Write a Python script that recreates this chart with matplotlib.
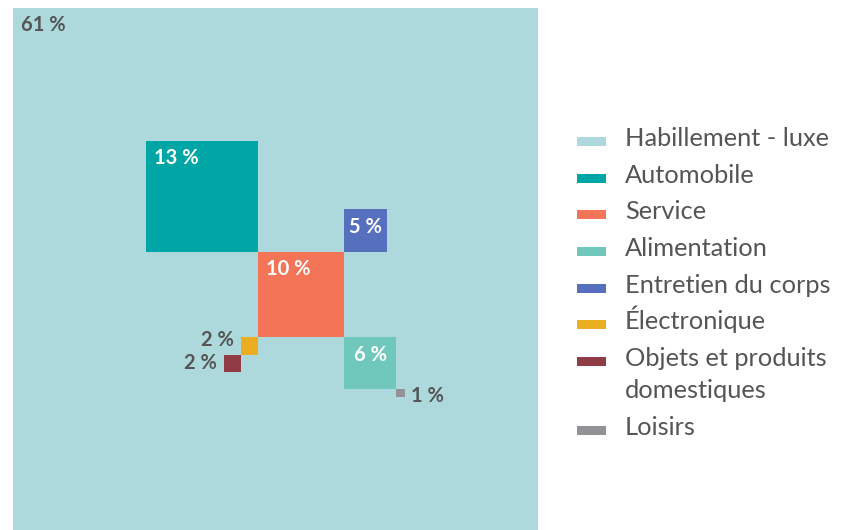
import matplotlib.pyplot as plt
from matplotlib.patches import Rectangle

plt.rcParams['font.family'] = ['Lato', 'DejaVu Sans']

categories = ['Habillement - luxe', 'Automobile', 'Service', 'Alimentation',
              'Entretien du corps', 'Électronique',
              'Objets et produits\ndomestiques', 'Loisirs']
shares = [61, 13, 10, 6, 5, 2, 2, 1]

colors = ['#add9dc', '#00a5a6', '#f47457', '#70c8bc',
          '#5770be', '#ebae22', '#903b45', '#929296']

# top-left corner of each square (side = share), y measured downward
corners = [(0, 0), (15.5, 15.5), (28.5, 28.5), (38.5, 38.5),
           (38.5, 23.5), (26.5, 38.5), (24.5, 40.5), (44.5, 44.5)]

# label placement: 'in' = top-left inside, 'mid' = centred at top,
# 'left' / 'right' = beside the square; dy = label centre below square top
label_mode = ['in', 'in', 'in', 'mid', 'mid', 'left', 'left', 'right']
label_dy = [2.0, 2.0, 2.0, 2.1, 2.1, 0.25, 1.0, 0.8]

TXT = '#555555'
W, H = 861, 530

fig = plt.figure(figsize=(W / 100, H / 100), dpi=100)
ax = fig.add_axes([13 / W, 0, 525 / W, 522 / H])
ax.set_xlim(0, 61)
ax.set_ylim(61, 0)
ax.axis('off')

lab_kw = dict(fontsize=14.5, fontweight='bold', va='center')
for (x0, y0), v, c, mode, dy in zip(corners, shares, colors, label_mode,
                                    label_dy):
    ax.add_patch(Rectangle((x0, y0), v, v, facecolor=c, edgecolor='none'))
    lab = '%d %%' % v
    if mode == 'in':
        col = TXT if v == 61 else 'white'
        ax.text(x0 + 0.9, y0 + dy, lab, color=col, ha='left', **lab_kw)
    elif mode == 'mid':
        ax.text(x0 + v / 2, y0 + dy, lab, color='white', ha='center',
                **lab_kw)
    elif mode == 'left':
        ax.text(x0 - 0.8, y0 + dy, lab, color=TXT, ha='right', **lab_kw)
    else:
        ax.text(x0 + v + 0.8, y0 + dy, lab, color=TXT, ha='left', **lab_kw)

# legend drawn by hand so the swatch lines up with the first text line
y = 141.7
for name, c in zip(categories, colors):
    fy = 1 - y / H
    fig.patches.append(Rectangle((577 / W, fy - 4.5 / H), 29 / W, 9 / H,
                                 facecolor=c, edgecolor='none',
                                 transform=fig.transFigure, figure=fig))
    for k, line in enumerate(name.split('\n')):
        fig.text(625 / W, 1 - (y + 4.5 + 32 * k) / H, line, color=TXT,
                 fontsize=18.3, ha='left', va='baseline')
    y += 36.6 + 33 * name.count('\n')

fig.savefig('out.png', dpi=100)
